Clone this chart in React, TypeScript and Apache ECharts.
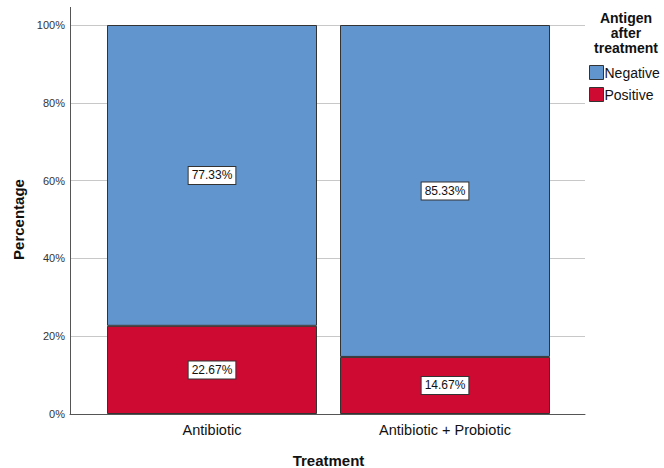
import React, { useEffect, useRef } from "react";
import * as echarts from "echarts";

const categories = ["Antibiotic", "Antibiotic + Probiotic"];
const negative = [77.33, 85.33];
const positive = [22.67, 14.67];
const yTicks = [0, 20, 40, 60, 80, 100];

const FONT = "'Liberation Sans', Arial, Helvetica, sans-serif";

export default function App() {
  const ref = useRef<HTMLDivElement>(null);
  useEffect(() => {
    if (!ref.current) return;
    const chart = echarts.init(ref.current, null, { renderer: "svg" });
    const label = {
      show: true,
      position: "inside",
      formatter: (p: any) => p.value.toFixed(2) + "%",
      backgroundColor: "#fff",
      borderColor: "#333",
      borderWidth: 1,
      padding: [3, 3, 2, 3],
      color: "#111",
      fontSize: 12,
      fontFamily: FONT,
    };
    chart.setOption({
      animation: false,
      backgroundColor: "#fff",
      textStyle: { fontFamily: FONT },
      grid: [
        { left: 70, right: 79, top: 25, bottom: 54, outerBoundsMode: "none", containLabel: false },
        { left: 95.5, right: 102.5, top: 25, bottom: 54, outerBoundsMode: "none", containLabel: false },
      ],
      xAxis: [
        {
          gridIndex: 0,
          type: "category",
          data: categories,
          axisLine: { show: true, lineStyle: { color: "#555", width: 1 } },
          axisTick: { show: false },
          axisLabel: { show: false },
          splitLine: { show: false },
        },
        {
          gridIndex: 1,
          type: "category",
          data: categories,
          axisLine: { show: false },
          axisTick: { show: false },
          axisLabel: { color: "#111", fontSize: 14.5, margin: 8, fontFamily: FONT },
          name: "Treatment",
          nameLocation: "middle",
          nameGap: 39,
          nameTextStyle: { fontWeight: "bold", fontSize: 15, color: "#111", fontFamily: FONT },
        },
      ],
      yAxis: [
        {
          gridIndex: 0,
          type: "value",
          min: yTicks[0],
          max: yTicks[yTicks.length - 1],
          interval: 20,
          axisLine: { show: true, lineStyle: { color: "#555", width: 1 } },
          axisTick: { show: false },
          axisLabel: {
            color: "#333",
            fontSize: 11,
            margin: 5,
            formatter: (v: number) => v + "%",
            fontFamily: FONT,
          },
          splitLine: { show: true, lineStyle: { color: "#c8c8c8", width: 1 } },
          name: "Percentage",
          nameLocation: "middle",
          nameGap: 43,
          nameRotate: 90,
          nameTextStyle: { fontWeight: "bold", fontSize: 15, color: "#111", fontFamily: FONT },
        },
        {
          gridIndex: 1,
          type: "value",
          min: 0,
          max: 100,
          interval: 20,
          show: false,
        },
      ],
      legend: {
        orient: "vertical",
        left: 589,
        top: 65,
        padding: 0,
        itemWidth: 14,
        itemHeight: 14,
        itemGap: 7,
        icon: "rect",
        data: ["Negative", "Positive"],
        textStyle: { fontSize: 14, color: "#111", padding: [0, 0, 0, -4], fontFamily: FONT },
        itemStyle: { borderColor: "#333", borderWidth: 1 },
      },
      graphic: [
        {
          type: "line",
          shape: { x1: 70.5, y1: 7, x2: 70.5, y2: 25 },
          style: { stroke: "#555", lineWidth: 1 },
          silent: true,
        },
        {
          type: "text",
          x: 626,
          y: 10,
          style: {
            text: "Antigen\nafter\ntreatment",
            textAlign: "center",
            fontSize: 14,
            fontWeight: "bold",
            lineHeight: 15,
            fill: "#111",
            fontFamily: FONT,
          },
        },
      ],
      series: [
        {
          name: "Positive",
          type: "bar",
          stack: "t",
          xAxisIndex: 1,
          yAxisIndex: 1,
          barWidth: 210,
          data: positive,
          itemStyle: { color: "#CE0A33", borderColor: "#333", borderWidth: 1 },
          label,
        },
        {
          name: "Negative",
          type: "bar",
          stack: "t",
          xAxisIndex: 1,
          yAxisIndex: 1,
          barWidth: 210,
          data: negative,
          itemStyle: { color: "#6195CE", borderColor: "#333", borderWidth: 1 },
          label,
        },
      ],
    });
    return () => chart.dispose();
  }, []);
  return (
    <div
      ref={ref}
      style={{ position: "fixed", left: 0, top: 0, width: 664, height: 468 }}
    />
  );
}
